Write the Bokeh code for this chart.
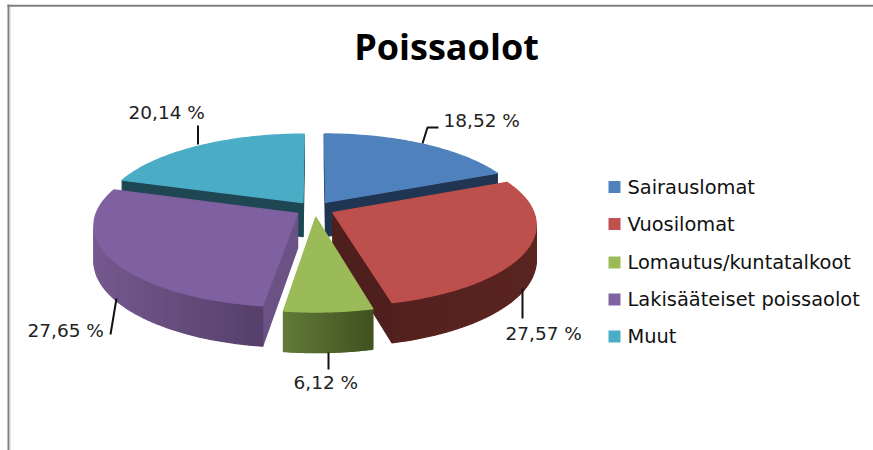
import math
from bokeh.plotting import figure
from bokeh.models import Range1d
from bokeh.core.properties import value
from bokeh.embed import file_html
from bokeh.resources import INLINE

TITLE = "Poissaolot"
categories = ["Sairauslomat", "Vuosilomat", "Lomautus/kuntatalkoot", "Lakisääteiset poissaolot", "Muut"]
shares = [18.52, 27.57, 6.12, 27.65, 20.14]
top_colors = ["#4f81bd", "#bd4f4c", "#9bbb59", "#7f60a0", "#4bacc6"]
face_colors = ["#1f3552", "#4e1f1c", "#4f6228", "#6a5285", "#1f4753"]
wall_left = ["#1f3552", "#521f1c", "#627a38", "#75598f", "#1f4753"]
wall_right = ["#1f3552", "#5a2421", "#41521f", "#4f3b63", "#1f4753"]
draw_order = [4, 0, 3, 1, 2]
label_anchor = [(443, 120), (505, 333), (293, 382), (27, 330), (128, 112)]
leaders = [[(422, 143), (427, 127), (438, 127)], [(522, 288), (522, 318)], [(328, 352), (328, 369)],
           [(116, 298), (110, 334)], [(197.5, 144), (197.5, 125)]]
legend_y = [186.5, 223.5, 262, 299, 336]

CX, CY, A, B, K, D, EXPL = 314.2, 208.5, 200.0, 79.6, 0.137, 34.5, 0.10


def proj(gx, gz, h=0.0):
    s = 1.0 / (1.0 - K * gz)
    return CX + A * gx * s, CY + B * gz * s + D * h * s


def hexmix(c1, c2, t):
    a = [int(c1[i:i + 2], 16) for i in (1, 3, 5)]
    b = [int(c2[i:i + 2], 16) for i in (1, 3, 5)]
    return "#%02x%02x%02x" % tuple(round(u + (v - u) * t) for u, v in zip(a, b))


p = figure(width=873, height=450, x_range=Range1d(0, 873), y_range=Range1d(450, 0),
           output_backend="svg", toolbar_location=None, min_border=0,
           background_fill_color="white")
p.axis.visible = False
p.grid.visible = False
p.outline_line_color = None

# frame
p.line([8, 8], [4, 450], line_color="#808080", line_width=2)
p.line([9.5, 9.5], [6, 450], line_color="#d0d0d0", line_width=1)
p.line([7, 873], [5.2, 5.2], line_color="#808080", line_width=2)

# pie
starts, acc = [], 0.0
for v in shares:
    starts.append(acc)
    acc += v
total = acc

xs, ys, fills = [], [], []
for idx in draw_order:
    t0 = starts[idx] / total * 2 * math.pi
    t1 = (starts[idx] + shares[idx]) / total * 2 * math.pi
    mid = (t0 + t1) / 2
    ox, oz = EXPL * math.sin(mid), -EXPL * math.cos(mid)
    n = 60
    ring = [(ox, oz)]
    for i in range(n + 1):
        t = t0 + (t1 - t0) * i / n
        ring.append((ox + math.sin(t), oz - math.cos(t)))
    pts = [proj(*g) for g in ring]
    xmin, xmax = min(q[0] for q in pts), max(q[0] for q in pts)
    for i in range(len(ring)):
        g1, g2 = ring[i], ring[(i + 1) % len(ring)]
        a1, a2 = proj(*g1), proj(*g2)
        if a2[0] - a1[0] < 0:
            b1, b2 = proj(*g1, 1), proj(*g2, 1)
            radial = i == 0 or i == len(ring) - 1
            col = face_colors[idx] if radial else hexmix(wall_left[idx], wall_right[idx], (a1[0] - xmin) / (xmax - xmin))
            xs.append([a1[0], a2[0], b2[0], b1[0]])
            ys.append([a1[1], a2[1], b2[1], b1[1]])
            fills.append(col)
    xs.append([q[0] for q in pts])
    ys.append([q[1] for q in pts])
    fills.append(top_colors[idx])
p.patches(xs, ys, fill_color=fills, line_color=fills, line_width=1.2)

# leaders
for seg in leaders:
    p.line([q[0] for q in seg], [q[1] for q in seg], line_color="#111111", line_width=2)

FONT = value("DejaVu Sans")
labels = [f"{v:.2f} %".replace(".", ",") for v in shares]
p.text([q[0] for q in label_anchor], [q[1] for q in label_anchor], text=labels, text_font=FONT,
       text_font_size=value("18.5px"), text_color="#222222", text_baseline="middle", text_align="left")

# title
p.text([446], [46], text=[TITLE], text_font=value("Open Sans"), text_font_style="bold",
       text_font_size=value("36px"), text_color="#000000", text_align="center", text_baseline="middle")

# legend
p.rect([614] * 5, legend_y, width=12, height=12, fill_color=[top_colors[0], "#c0504d", top_colors[2], "#8064a2", top_colors[4]],
       line_color=None)
p.text([627] * 5, legend_y, text=categories, text_font=FONT, text_font_size=value("19.4px"),
       text_color="#111111", text_baseline="middle", text_align="left")

open("out.html", "w").write(file_html(p, INLINE))
